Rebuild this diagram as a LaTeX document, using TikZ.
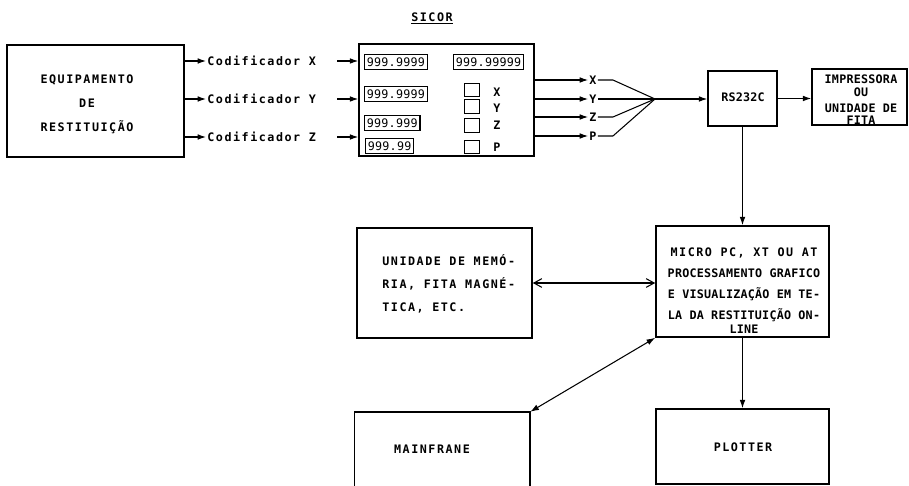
\documentclass[tikz,border=0pt]{standalone}
\usepackage{fontspec}
\usetikzlibrary{arrows.meta,fit}
\newfontfamily\letfont[LetterSpace=13]{DejaVu Sans Mono}
\newfontfamily\tightfont[LetterSpace=2]{DejaVu Sans Mono}

\begin{document}
\begin{tikzpicture}[x=0.03cm, y=-0.03cm,
    box/.style={draw, line width=1.3pt, inner sep=0pt},
    txt/.style={inner sep=1pt, font=\letfont\bfseries\fontsize{10}{20.4}\selectfont},
    ttxt/.style={inner sep=1pt, font=\tightfont\bfseries\fontsize{10}{17.9}\selectfont},
    disp/.style={draw, line width=0.9pt, inner xsep=2pt, inner ysep=0pt, minimum height=0.46cm, font=\tightfont\fontsize{10}{10}\selectfont},
    lamp/.style={draw, line width=0.9pt, minimum width=0.45cm, minimum height=0.4cm, inner sep=0pt},
    arr/.style={-{Latex[length=2.5mm,width=1.7mm]}, line width=0.9pt},
    darr/.style={{Straight Barb[length=2.4mm,width=2.6mm]}-{Straight Barb[length=2.4mm,width=2.6mm]}, line width=0.9pt},
    fdarr/.style={{Latex[length=2.6mm,width=1.8mm]}-{Latex[length=2.6mm,width=1.8mm]}, line width=0.9pt}]
    \useasboundingbox (0,0) rectangle (909,486);
    % boxes
    \node[box, fit={(7,45) (184,157)}] (equip) {};
    \node[box, fit={(359,44) (534,156)}] (sicor) {};
    \node[box, fit={(708,71) (777,126)}] (rs) {};
    \node[box, fit={(812,69) (907,125)}] (impr) {};
    \node[box, fit={(357,228) (532,338)}] (unid) {};
    \node[box, fit={(656,226) (829,337)}] (micro) {};
    \node[fit={(354.5,412) (530,486)}, inner sep=0pt] (main) {};
    \node[box, fit={(656,409) (829,484)}] (plot) {};
    \draw[line width=1.3pt] (main.south west) -- (main.north west) -- (main.north east) -- (main.south east);

    % texts
    \node[txt, align=center] (equiptxt) at (87,104) {EQUIPAMENTO\\DE\\RESTITUIÇÃO};
    \node[txt, anchor=west] (codx) at (206,61) {Codificador X};
    \node[txt, anchor=west] (cody) at (206,99) {Codificador Y};
    \node[txt, anchor=west] (codz) at (206,137) {Codificador Z};
    \node[txt] (sicortitle) at (432,18) {\underline{SICOR}};
    \node[ttxt] (rstxt) at (743,97) {RS232C};
    \node[ttxt, align=center, font=\tightfont\bfseries\fontsize{10}{14}\selectfont] (imprtxt) at (861,100) {IMPRESSORA\\[-3.5pt]OU\\UNIDADE DE\\[-3.5pt]FITA};
    \node[txt, align=left, anchor=west, font=\letfont\bfseries\fontsize{10}{19.6}\selectfont] (unidtxt) at (381,284) {UNIDADE DE MEMÓ-\\RIA, FITA MAGNÉ-\\TICA, ETC.};
    \node[ttxt, align=center] (microtxt) at (744,291) {{\letfont\bfseries MICRO PC, XT OU AT}\\PROCESSAMENTO GRAFICO\\E VISUALIZAÇÃO EM TE-\\LA DA RESTITUIÇÃO ON-\\[-6pt]LINE};
    \node[txt] (maintxt) at (432,449) {MAINFRANE};
    \node[txt] (plottxt) at (743,447) {PLOTTER};

    % SICOR panel
    \node[disp, anchor=west] (dx) at (364,62) {999.9999};
    \node[disp, anchor=west] (dt) at (453,62) {999.99999};
    \node[disp, anchor=west] (dy) at (364,94) {999.9999};
    \node[disp, anchor=west] (dz) at (364,123) {999.999};
    \node[disp, anchor=west] (dp) at (365,146) {999.99};
    \node[lamp] (lx) at (472,90) {};
    \node[lamp] (ly) at (472,106.5) {};
    \node[lamp] (lz) at (472,125.5) {};
    \node[lamp] (lp) at (472,147) {};
    \node[txt] (llx) at (497,92) {X};
    \node[txt] (lly) at (497,108) {Y};
    \node[txt] (llz) at (497,125) {Z};
    \node[txt] (llp) at (497,147) {P};

    % outputs
    \node[txt] (ox) at (593,80) {X};
    \node[txt] (oy) at (593,99) {Y};
    \node[txt] (oz) at (593,117) {Z};
    \node[txt] (op) at (593,136) {P};
    \coordinate (conv) at (655,99);

    % connectors
    \draw[arr] (equip.east |- codx.west) -- (codx.west);
    \draw[arr] (equip.east |- cody.west) -- (cody.west);
    \draw[arr] (equip.east |- codz.west) -- (codz.west);
    \draw[arr] ([xshift=0.6cm]codx.east) -- (sicor.west |- codx.east);
    \draw[arr] ([xshift=0.6cm]cody.east) -- (sicor.west |- cody.east);
    \draw[arr] ([xshift=0.6cm]codz.east) -- (sicor.west |- codz.east);
    \draw[arr] (sicor.east |- ox) -- (ox.west);
    \draw[arr] (sicor.east |- oy) -- (oy.west);
    \draw[arr] (sicor.east |- oz) -- (oz.west);
    \draw[arr] (sicor.east |- op) -- (op.west);
    \draw[line width=0.9pt] (ox.east) -- ++(15,0) -- (conv);
    \draw[line width=0.9pt] (oy.east) -- (conv);
    \draw[line width=0.9pt] (oz.east) -- ++(15,0) -- (conv);
    \draw[line width=0.9pt] (op.east) -- ++(15,0) -- (conv);
    \draw[arr] (conv) -- (rs.west |- conv);
    \draw[arr] (rs.east) -- (impr.west |- rs.east);
    \draw[arr] (rs.south) -- (micro.north);
    \draw[darr] (unid.east) -- (micro.west |- unid.east);
    \draw[fdarr] (micro.south west) -- (main.north east);
    \draw[arr] (micro.south) -- (plot.north);
\end{tikzpicture}
\end{document}
